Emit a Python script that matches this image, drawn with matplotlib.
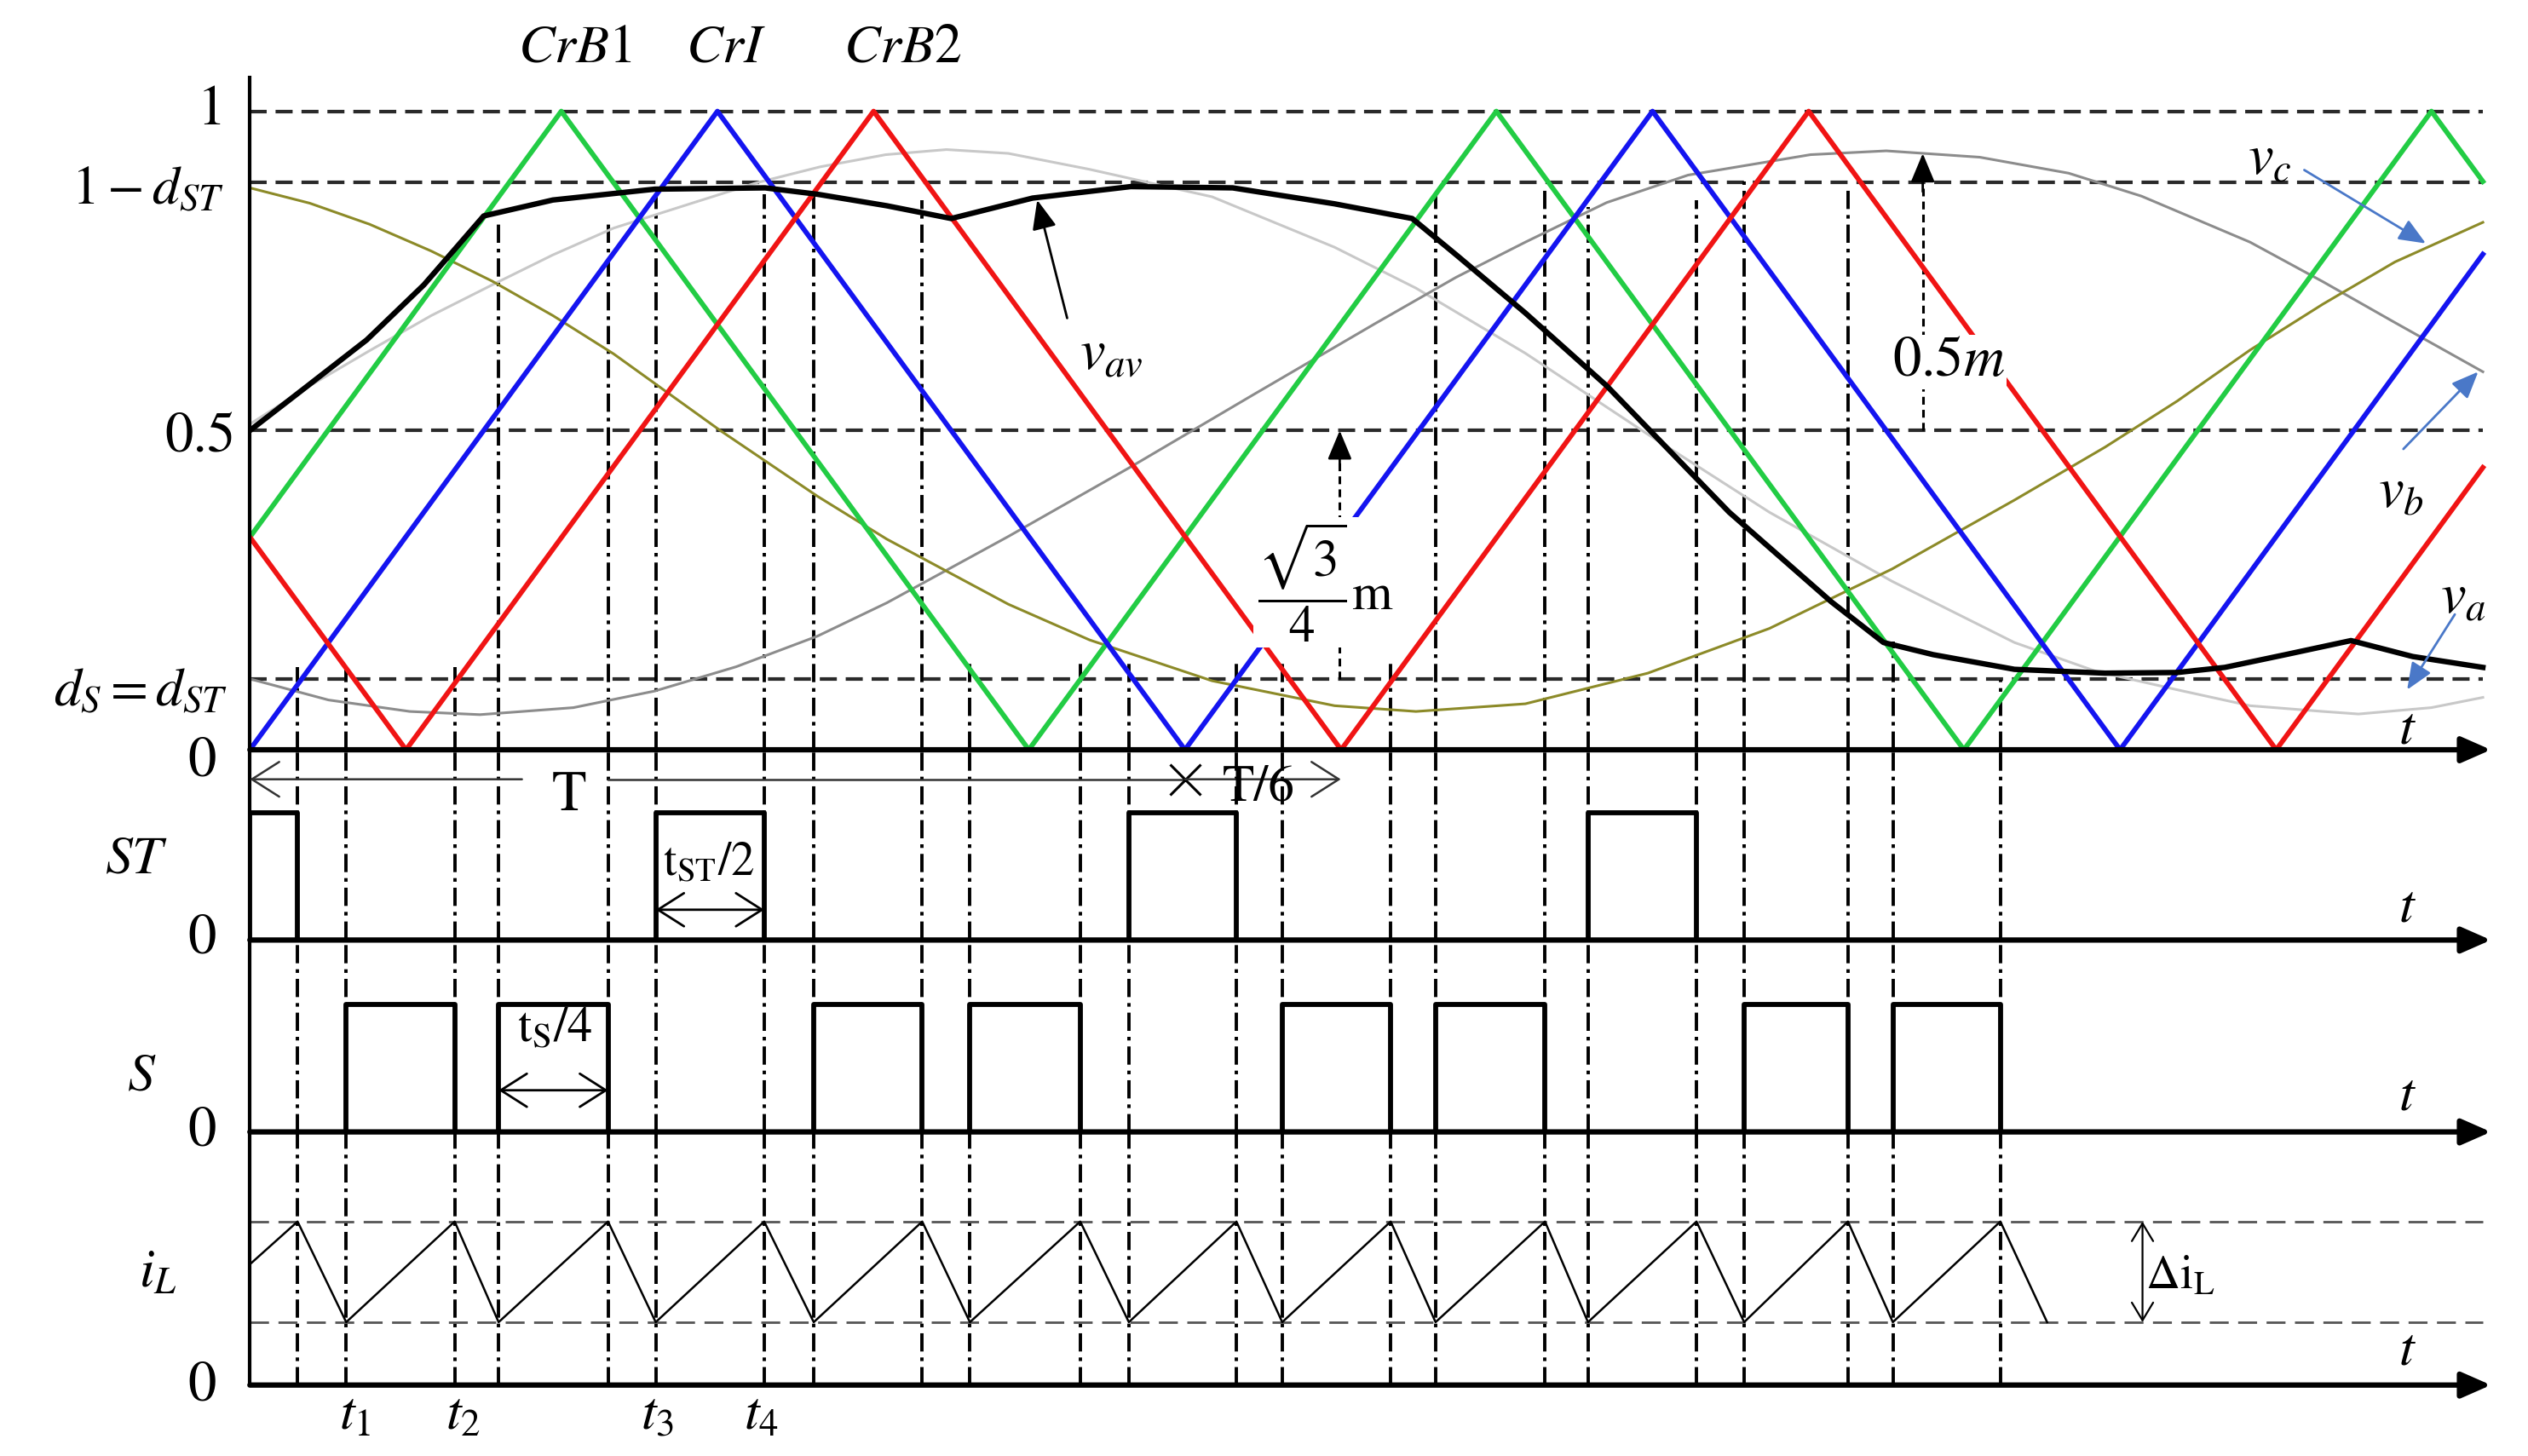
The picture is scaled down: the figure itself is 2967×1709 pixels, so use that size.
import matplotlib.pyplot as plt

plt.rcParams['font.family'] = 'STIXGeneral'
plt.rcParams['mathtext.fontset'] = 'stix'

# time in carrier periods T, levels in p.u.
T = 1.0
d_st = 0.111
t_end = 2.3966
t_last = 2.388

# triangular carriers (vertices)
green_t = [0, 0.333, 0.833, 1.333, 1.833, 2.333, 2.388]
green_v = [0.333, 1, 0, 1, 0, 1, 0.89]
blue_t = [0, 0.5, 1.0, 1.5, 2.0, 2.388]
blue_v = [0, 1, 0, 1, 0, 0.776]
red_t = [0, 0.167, 0.667, 1.167, 1.667, 2.167, 2.388]
red_v = [0.333, 0, 1, 0, 1, 0, 0.442]

# average reference v_av
vav_t = [0, 0.060, 0.125, 0.186, 0.250, 0.324, 0.433, 0.551, 0.607, 0.681, 0.750, 0.837, 0.942,
         1.051, 1.160, 1.243, 1.291, 1.364, 1.451, 1.582, 1.691, 1.747, 1.800, 1.887,
         1.984, 2.061, 2.112, 2.177, 2.247, 2.313, 2.388]
vav_v = [0.50, 0.568, 0.642, 0.728, 0.836, 0.861, 0.878, 0.880, 0.870, 0.852, 0.832, 0.864, 0.882,
         0.880, 0.855, 0.832, 0.774, 0.684, 0.570, 0.372, 0.232, 0.168, 0.149, 0.126,
         0.120, 0.121, 0.129, 0.149, 0.171, 0.146, 0.129]

# phase references
va_t = [0, 0.064, 0.128, 0.194, 0.259, 0.324, 0.389, 0.477, 0.542, 0.610, 0.680, 0.745, 0.811,
        0.898, 1.029, 1.160, 1.247, 1.364, 1.495, 1.625, 1.756, 1.887, 1.974, 2.061, 2.139,
        2.217, 2.255, 2.333, 2.388]
va_v = [0.51, 0.57, 0.625, 0.680, 0.728, 0.775, 0.817, 0.858, 0.888, 0.913, 0.932, 0.94, 0.934,
        0.909, 0.866, 0.787, 0.723, 0.621, 0.494, 0.372, 0.264, 0.168, 0.123, 0.094, 0.069,
        0.060, 0.056, 0.066, 0.082]
vb_t = [0, 0.084, 0.171, 0.246, 0.346, 0.433, 0.520, 0.607, 0.681, 0.811, 0.942, 1.073,
        1.204, 1.290, 1.364, 1.451, 1.538, 1.669, 1.750, 1.850, 1.945, 2.023, 2.139, 2.217,
        2.294, 2.388]
vb_v = [0.111, 0.078, 0.06, 0.055, 0.066, 0.092, 0.130, 0.178, 0.230, 0.334, 0.443, 0.556,
        0.668, 0.740, 0.795, 0.857, 0.900, 0.932, 0.938, 0.928, 0.903, 0.867, 0.795, 0.733,
        0.669, 0.592]
vc_t = [0, 0.064, 0.128, 0.194, 0.259, 0.324, 0.389, 0.503, 0.607, 0.681, 0.811, 0.898, 1.029,
        1.160, 1.247, 1.364, 1.495, 1.625, 1.756, 1.887, 1.984, 2.061, 2.139, 2.217, 2.294, 2.388]
vc_v = [0.880, 0.856, 0.823, 0.781, 0.734, 0.680, 0.620, 0.500, 0.397, 0.330, 0.228, 0.172,
        0.108, 0.069, 0.060, 0.072, 0.120, 0.190, 0.283, 0.391, 0.474, 0.546, 0.626, 0.698,
        0.764, 0.826]

# switching instants and how high the guide lines reach in the top panel
edge_t = [0.051, 0.103, 0.219, 0.266, 0.383, 0.434, 0.550, 0.603, 0.719, 0.770, 0.888, 0.940,
          1.055, 1.104, 1.220, 1.268, 1.385, 1.431, 1.547, 1.598, 1.709, 1.757, 1.872]
edge_top = [0.13, 0.13, 0.13, 0.83, 0.83, 0.87, 0.87, 0.87, 0.86, 0.14, 0.14, 0.14,
            0.14, 0.14, 0.14, 0.87, 0.88, 0.85, 0.86, 0.89, 0.88, 0.17, 0.11]

st_on = [0, 0.434, 0.940, 1.431]
st_off = [0.051, 0.550, 1.055, 1.547]
s_on = [0.103, 0.266, 0.603, 0.770, 1.104, 1.268, 1.598, 1.757]
s_off = [0.219, 0.383, 0.719, 0.888, 1.220, 1.385, 1.709, 1.872]

il_lo, il_hi = 1.0, 2.6
il_t = [0, 0.051, 0.103, 0.219, 0.266, 0.383, 0.434, 0.550, 0.603, 0.719, 0.770, 0.888, 0.940,
        1.055, 1.104, 1.220, 1.268, 1.385, 1.431, 1.547, 1.598, 1.709, 1.757, 1.872, 1.922]
il_v = [1.92, 2.6, 1.0, 2.6, 1.0, 2.6, 1.0, 2.6, 1.0, 2.6, 1.0, 2.6, 1.0,
        2.6, 1.0, 2.6, 1.0, 2.6, 1.0, 2.6, 1.0, 2.6, 1.0, 2.6, 1.0]

fig = plt.figure(figsize=(29.67, 17.09), dpi=100)
ax1 = fig.add_axes([0.09885, 0.48505, 0.88648, 0.47065])
ax2 = fig.add_axes([0.09885, 0.35437, 0.88648, 0.13068])
ax3 = fig.add_axes([0.09885, 0.22259, 0.88648, 0.13178])
ax4 = fig.add_axes([0.09885, 0.04873, 0.88648, 0.17387])

axis_arrow = dict(arrowstyle='-|>,head_length=0.5,head_width=0.22', mutation_scale=42,
                  lw=4.5, color='black', shrinkA=0, shrinkB=0)
dashdot = (0, (5.5, 1.8, 1.1, 1.8))
fs = 46
fn = 48

for ax, top in [(ax1, 1.0732), (ax2, 1.4937), (ax3, 1.5063), (ax4, 4.0256)]:
    ax.set_xlim(0, t_end)
    ax.set_ylim(0, top)
    ax.set_xticks([])
    ax.set_yticks([])
    for s in ['top', 'right', 'bottom']:
        ax.spines[s].set_visible(False)
    ax.spines['left'].set_linewidth(3)
    ax.patch.set_visible(False)
    ax.annotate('', xy=(t_end, 0), xytext=(0, 0), arrowprops=axis_arrow, annotation_clip=False)
    if ax is not ax1:
        ax.vlines(edge_t, 0, top, colors='black', linestyles=dashdot, lw=2.8, zorder=1)
ax1.spines['left'].set_bounds(0, 1.053)

# top panel
ax1.hlines([1, 1 - d_st, 0.5, d_st], 0, t_last, colors='#2a2a2a', linestyles=(0, (4.8, 2.5)), lw=3, zorder=1)
ax1.vlines(edge_t, 0, edge_top, colors='black', linestyles=dashdot, lw=2.8, zorder=1)
ax1.plot(va_t, va_v, color='#c8c8c8', lw=2.2, zorder=1.5)
ax1.plot(vb_t, vb_v, color='#8c8c8c', lw=2.2, zorder=1.5)
ax1.plot(vc_t, vc_v, color='#8c8a28', lw=2.2, zorder=1.5)
ax1.plot(green_t, green_v, color='#22cc44', lw=4.2, zorder=2)
ax1.plot(blue_t, blue_v, color='#1414f0', lw=4.2, zorder=2)
ax1.plot(red_t, red_v, color='#f01414', lw=4.2, zorder=2)
ax1.plot(vav_t, vav_v, color='black', lw=4.6, zorder=2.5)

ax1.text(-0.026, 1.0, '1', fontsize=fn, ha='right', va='center')
ax1.text(-0.028, 0.876, r'$1-d_{ST}$', fontsize=fs, ha='right', va='center')
ax1.text(-0.0155, 0.487, '0.5', fontsize=fn, ha='right', va='center')
ax1.text(-0.024, 0.09, r'$d_S=d_{ST}$', fontsize=fs, ha='right', va='center')
ax1.text(-0.036, -0.02, '0', fontsize=fn, ha='right', va='center')
ax1.text(0.348, 1.098, r'$CrB1$', fontsize=fs, ha='center', va='center')
ax1.text(0.509, 1.098, r'$CrI$', fontsize=fs, ha='center', va='center')
ax1.text(0.698, 1.098, r'$CrB2$', fontsize=fs, ha='center', va='center')
ax1.text(2.307, 0.03, r'$t$', fontsize=fs, ha='center', va='center')

ax1.text(0.921, 0.616, r'$v_{av}$', fontsize=fn, ha='center', va='center')
head = dict(arrowstyle='-|>,head_length=0.6,head_width=0.25', mutation_scale=35,
            lw=2, color='black', shrinkA=0, shrinkB=0)
ax1.annotate('', xy=(0.842, 0.861), xytext=(0.874, 0.676), arrowprops=head)

ax1.vlines(1.1655, d_st, 0.45, colors='black', linestyles=(0, (3, 2)), lw=2.2, zorder=1)
ax1.annotate('', xy=(1.1655, 0.5), xytext=(1.1655, 0.44), arrowprops=head)
ax1.text(1.150, 0.262, r'$\dfrac{\sqrt{3}}{4}\mathrm{m}$', fontsize=44, ha='center', va='center',
         zorder=4, bbox=dict(facecolor='white', edgecolor='none', pad=3))
ax1.vlines(1.789, 0.5, 0.88, colors='black', linestyles=(0, (3, 2)), lw=2.2, zorder=1)
ax1.annotate('', xy=(1.789, 0.934), xytext=(1.789, 0.874), arrowprops=head)
ax1.text(1.817, 0.607, r'$0.5m$', fontsize=fn, ha='center', va='center',
         zorder=4, bbox=dict(facecolor='white', edgecolor='none', pad=1))

blue_arrow = dict(arrowstyle='-|>,head_length=0.6,head_width=0.25', mutation_scale=32,
                  lw=2, color='#4a78c8', shrinkA=0, shrinkB=0)
ax1.text(2.160, 0.922, r'$v_c$', fontsize=fn, ha='center', va='center')
ax1.annotate('', xy=(2.327, 0.793), xytext=(2.197, 0.908), arrowprops=blue_arrow)
ax1.text(2.300, 0.400, r'$v_b$', fontsize=fn, ha='center', va='center')
ax1.annotate('', xy=(2.383, 0.592), xytext=(2.303, 0.471), arrowprops=blue_arrow)
ax1.text(2.367, 0.235, r'$v_a$', fontsize=fn, ha='center', va='center')
ax1.annotate('', xy=(2.307, 0.094), xytext=(2.358, 0.212), arrowprops=blue_arrow)

# ST panel
for a, b in zip(st_on, st_off):
    ax2.plot([a, a, b, b], [0, 1, 1, 0], color='black', lw=4.2, zorder=3)
y_T = 1.262
open_head = dict(arrowstyle='->,head_length=0.55,head_width=0.35', mutation_scale=42,
                 lw=1.8, color='#333333', shrinkA=0, shrinkB=0)
ax2.annotate('', xy=(0, y_T), xytext=(0.291, y_T), arrowprops=open_head)
ax2.plot([0.383, T], [y_T, y_T], color='#333333', lw=1.8)
ax2.plot([T], [y_T], marker='x', ms=26, mew=2.2, color='black')
ax2.annotate('', xy=(T + T / 6, y_T), xytext=(T, y_T), arrowprops=open_head)
ax2.text(0.341, 1.12, 'T', fontsize=fn, ha='center', va='center')
ax2.text(1.079, 1.19, 'T/6', fontsize=44, ha='center', va='center')
ax2.text(-0.121, 0.633, r'$ST$', fontsize=fs, ha='center', va='center')
ax2.text(-0.036, 0.0, '0', fontsize=fn, ha='right', va='center')
ax2.text(2.307, 0.25, r'$t$', fontsize=fs, ha='center', va='center')
ax2.annotate('', xy=(st_on[1], 0.238), xytext=(st_off[1], 0.238),
             arrowprops=dict(arrowstyle='<->,head_length=0.55,head_width=0.35', mutation_scale=40,
                             lw=2, color='black', shrinkA=0, shrinkB=0))
ax2.text(0.491, 0.60, r'$\mathrm{t}_{\mathrm{ST}}/2$', fontsize=40, ha='center', va='center')

# S panel
for a, b in zip(s_on, s_off):
    ax3.plot([a, a, b, b], [0, 1, 1, 0], color='black', lw=4.2, zorder=3)
ax3.text(-0.116, 0.43, r'$S$', fontsize=fs, ha='center', va='center')
ax3.text(-0.036, 0.0, '0', fontsize=fn, ha='right', va='center')
ax3.text(2.307, 0.28, r'$t$', fontsize=fs, ha='center', va='center')
ax3.annotate('', xy=(s_on[1], 0.327), xytext=(s_off[1], 0.327),
             arrowprops=dict(arrowstyle='<->,head_length=0.55,head_width=0.35', mutation_scale=40,
                             lw=2, color='black', shrinkA=0, shrinkB=0))
ax3.text(0.326, 0.80, r'$\mathrm{t}_{\mathrm{S}}/4$', fontsize=42, ha='center', va='center')

# inductor current panel
ax4.hlines([il_lo, il_hi], 0, t_last, colors='#555555', linestyles=(0, (8, 4)), lw=2, zorder=1)
ax4.plot(il_t, il_v, color='black', lw=1.8, zorder=3)
ax4.annotate('', xy=(2.024, il_hi), xytext=(2.024, il_lo),
             arrowprops=dict(arrowstyle='<->,head_length=0.5,head_width=0.3', mutation_scale=30,
                             lw=1.6, color='black', shrinkA=0, shrinkB=0))
ax4.text(2.064, 1.72, r'$\Delta\mathrm{i}_\mathrm{L}$', fontsize=40, ha='center', va='center')
ax4.text(-0.098, 1.77, r'$i_L$', fontsize=fs, ha='center', va='center')
ax4.text(-0.036, -0.03, '0', fontsize=fn, ha='right', va='center')
ax4.text(2.307, 0.54, r'$t$', fontsize=fs, ha='center', va='center')
for lab, tx in zip([r'$t_1$', r'$t_2$', r'$t_3$', r'$t_4$'], [0.112, 0.228, 0.436, 0.547]):
    ax4.text(tx, -0.49, lab, fontsize=fs, ha='center', va='center')

plt.savefig('out.png', dpi=100)
